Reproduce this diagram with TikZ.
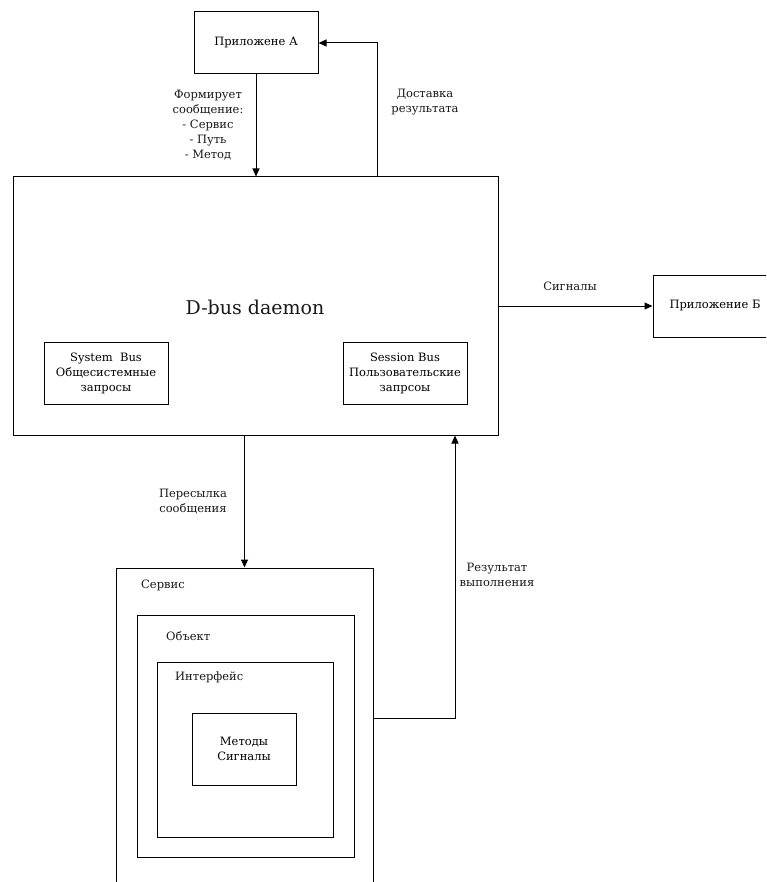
\documentclass[tikz,border=0pt]{standalone}
\usepackage{fontspec}
\setmainfont{DejaVu Serif}
\usetikzlibrary{arrows.meta,calc}
\begin{document}
\begin{tikzpicture}[x=1pt,y=-1pt,
  box/.style={draw, line width=1pt, rectangle, inner sep=0pt, align=center,
    font=\fontsize{11.5}{15}\selectfont},
  lbl/.style={align=center, inner sep=0pt, font=\fontsize{11.5}{15}\selectfont, text=black!90},
  arr/.style={draw, line width=1pt, -{Triangle[length=8pt,width=7pt]}}]
\useasboundingbox (0,0) rectangle (766,882);
\clip (0,0) rectangle (766,882);
\fill[white] (0,0) rectangle (766,882);
% boxes
\node[box, minimum width=124pt, minimum height=62pt] (A) at (256,43) {Приложене А};
\node[box, minimum width=485pt, minimum height=258pt] (daemon) at (255.5,306) {};
\node[lbl, font=\fontsize{19}{22}\selectfont] (dlabel) at (255,307) {D-bus daemon};
\node[box, minimum width=124pt, minimum height=62pt] (sys) at (106,373) {System~~Bus\\Общесистемные\\запросы};
\node[box, minimum width=124pt, minimum height=62pt] (ses) at (405,373) {Session Bus\\Пользовательские\\запрсоы};
\node[box, minimum width=124pt, minimum height=62pt] (B) at (715,306) {Приложение Б};
\node[box, minimum width=257pt, minimum height=342pt] (service) at (244.5,739) {};
\node[box, minimum width=217pt, minimum height=242pt] (obj) at (245.5,736) {};
\node[box, minimum width=176pt, minimum height=175pt] (iface) at (245,749.5) {};
\node[box, minimum width=104pt, minimum height=72pt] (meth) at (244,749) {Методы\\Сигналы};
% inner labels
\node[lbl, anchor=west] (lserv) at (141,585) {Сервис};
\node[lbl, anchor=west] (lobj) at (166,636) {Объект};
\node[lbl, anchor=west] (liface) at (175,677) {Интерфейс};
% connectors
\draw[arr] (A.south) -- (A.south |- daemon.north);
\draw[arr] ([xshift=121.5pt]daemon.north) |- (A.east);
\draw[arr] (daemon.east) -- (B.west);
\draw[arr] (service.north |- daemon.south) -- (service.north);
\draw[arr] ([yshift=21pt]service.east) -| ([xshift=199.5pt]daemon.south);
% connector labels
\node[lbl] (l1) at (208,125) {Формирует\\сообщение:\\- Сервис\\- Путь\\- Метод};
\node[lbl] (l2) at (425,102) {Доставка\\результата};
\node[lbl] (l3) at (570,286) {Сигналы};
\node[lbl] (l4) at (193,502) {Пересылка\\сообщения};
\node[lbl] (l5) at (497,575) {Результат\\выполнения};
\end{tikzpicture}
\end{document}
